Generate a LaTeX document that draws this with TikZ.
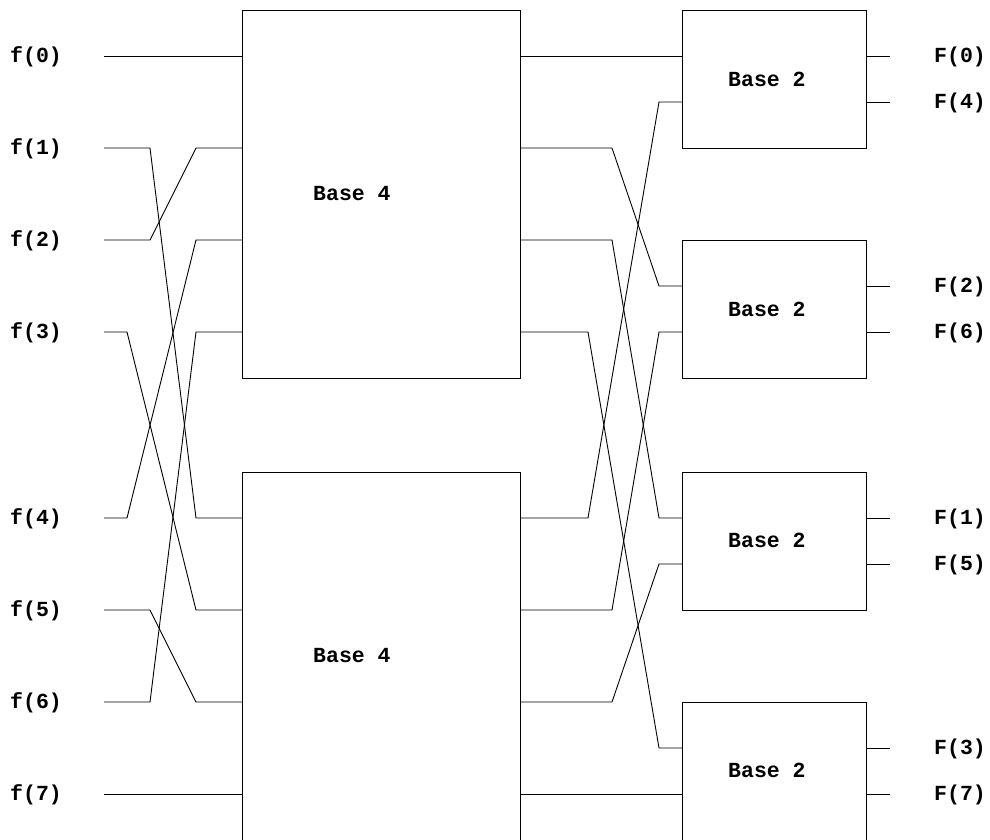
\documentclass[tikz,border=0pt]{standalone}
\usepackage{fontspec}
\setmonofont{Liberation Mono}
\begin{document}
\begin{tikzpicture}[x=1pt,y=-1pt,
  wire/.style={line width=0.9pt,black},
  boxst/.style={draw,line width=0.9pt,inner sep=0pt,anchor=north west},
  lbl/.style={font=\fontsize{21.5}{24}\selectfont\ttfamily\bfseries,inner sep=0pt,anchor=base west}]
\useasboundingbox (0,0) rectangle (990,839);
% input labels and line starts
\foreach \i/\y in {0/56,1/148,2/240,3/332,4/518,5/610,6/702,7/794}{
  \node[lbl] (f\i) at (10,\y+6) {f(\i)};
  \coordinate (s\i) at (104,\y);
}
% Base 4 boxes
\node[boxst,minimum width=278,minimum height=368] (A1) at (242,10) {};
\node[boxst,minimum width=278,minimum height=370] (A2) at (242,472) {};
\node[lbl] (A1t) at (313,200) {Base 4};
\node[lbl] (A2t) at (313,662) {Base 4};
% Base 4 ports
\foreach \k/\y in {0/56,1/148,2/240,3/332}{
  \coordinate (a1i\k) at (242,\y); \coordinate (a1o\k) at (520,\y);
}
\foreach \k/\y in {0/518,1/610,2/702,3/794}{
  \coordinate (a2i\k) at (242,\y); \coordinate (a2o\k) at (520,\y);
}
% Base 2 boxes
\node[boxst,minimum width=184,minimum height=138] (C1) at (682,10) {};
\node[boxst,minimum width=184,minimum height=138] (C2) at (682,240) {};
\node[boxst,minimum width=184,minimum height=138] (C3) at (682,472) {};
\node[boxst,minimum width=184,minimum height=140] (C4) at (682,702) {};
\node[lbl] (C1t) at (728,86) {Base 2};
\node[lbl] (C2t) at (728,316) {Base 2};
\node[lbl] (C3t) at (728,547) {Base 2};
\node[lbl] (C4t) at (728,777) {Base 2};
% Base 2 ports
\foreach \c/\ya/\yb in {1/56/102,2/286/332,3/518/564,4/748/794}{
  \coordinate (c\c i0) at (682,\ya); \coordinate (c\c i1) at (682,\yb);
  \coordinate (c\c o0) at (866,\ya); \coordinate (c\c o1) at (866,\yb);
  \coordinate (e\c 0) at (890,\ya); \coordinate (e\c 1) at (890,\yb);
}
% output labels
\node[lbl] (F0) at (934,62) {F(0)};
\node[lbl] (F4) at (934,108) {F(4)};
\node[lbl] (F2) at (934,292) {F(2)};
\node[lbl] (F6) at (934,338) {F(6)};
\node[lbl] (F1) at (934,524) {F(1)};
\node[lbl] (F5) at (934,570) {F(5)};
\node[lbl] (F3) at (934,754) {F(3)};
\node[lbl] (F7) at (934,800) {F(7)};
% input wiring
\draw[wire] (s0) -- (a1i0);
\draw[wire] (s1) -- ++(46,0) -- ([xshift=-46]a2i0) -- (a2i0);
\draw[wire] (s2) -- ++(46,0) -- ([xshift=-46]a1i1) -- (a1i1);
\draw[wire] (s3) -- ++(23,0) -- ([xshift=-46]a2i1) -- (a2i1);
\draw[wire] (s4) -- ++(23,0) -- ([xshift=-46]a1i2) -- (a1i2);
\draw[wire] (s5) -- ++(46,0) -- ([xshift=-46]a2i2) -- (a2i2);
\draw[wire] (s6) -- ++(46,0) -- ([xshift=-46]a1i3) -- (a1i3);
\draw[wire] (s7) -- (a2i3);
% middle wiring
\draw[wire] (a1o0) -- (c1i0);
\draw[wire] (a1o1) -- ++(92,0) -- ([xshift=-23]c2i0) -- (c2i0);
\draw[wire] (a1o2) -- ++(92,0) -- ([xshift=-23]c3i0) -- (c3i0);
\draw[wire] (a1o3) -- ++(68,0) -- ([xshift=-23]c4i0) -- (c4i0);
\draw[wire] (a2o0) -- ++(68,0) -- ([xshift=-23]c1i1) -- (c1i1);
\draw[wire] (a2o1) -- ++(92,0) -- ([xshift=-23]c2i1) -- (c2i1);
\draw[wire] (a2o2) -- ++(92,0) -- ([xshift=-23]c3i1) -- (c3i1);
\draw[wire] (a2o3) -- (c4i1);
% output stubs
\foreach \c in {1,2,3,4}{
  \draw[wire] (c\c o0) -- (e\c 0);
  \draw[wire] (c\c o1) -- (e\c 1);
}
\end{tikzpicture}
\end{document}
